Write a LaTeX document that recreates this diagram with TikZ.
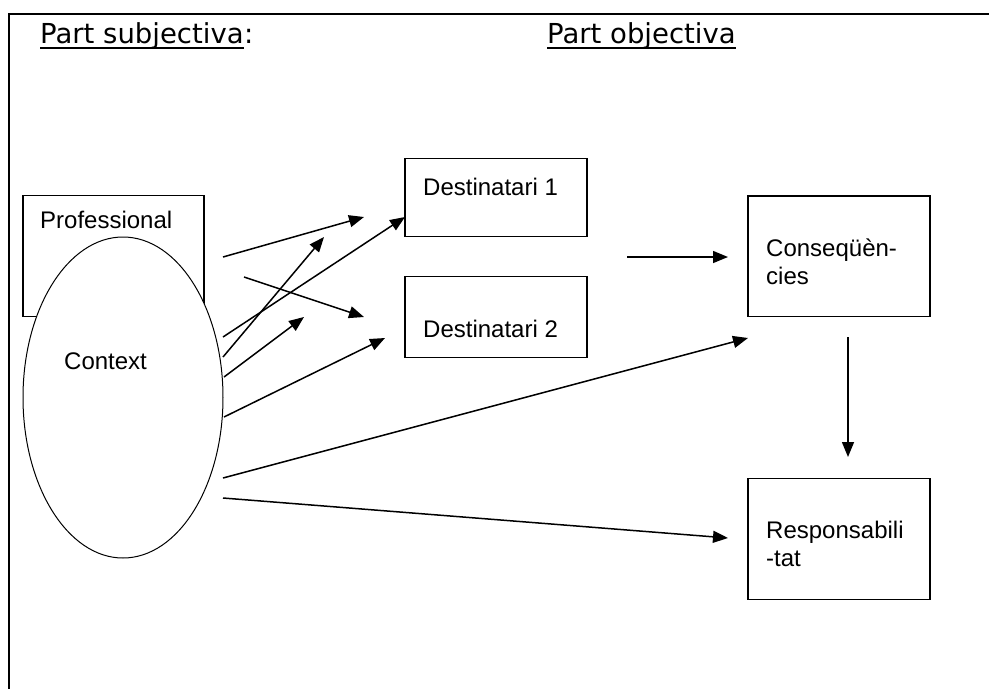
\documentclass[tikz,border=0pt]{standalone}
\usepackage{fontspec}
\setmainfont{Liberation Sans}
\newfontfamily\headfont{DejaVu Sans}
\usetikzlibrary{arrows.meta,shapes.geometric}

\tikzset{
  box/.style={draw, line width=1.5pt, rectangle, inner sep=0pt, outer sep=0pt},
  txt/.style={inner sep=0pt, font=\fontsize{24}{28}\selectfont, align=left},
  head/.style={inner sep=0pt, font=\headfont\fontsize{27.5}{31}\selectfont},
  arr/.style={line width=1.5pt, -{Triangle[length=15pt,width=12pt]}},
}

\begin{document}
\begin{tikzpicture}[x=1pt, y=-1pt]
  \useasboundingbox (0,0) rectangle (989,689);

  % Frame
  \coordinate (fr) at (989,14);
  \coordinate (fc) at (9,14);
  \coordinate (fb) at (9,689);
  \draw[line width=2pt] (fr) -- (fc) -- (fb);

  % Headings
  \node[head, anchor=base west] (psub) at (40,43.3) {Part subjectiva};
  \node[head, anchor=base west] (pcolon) at (psub.base east) {:};
  \node[head, anchor=base west] (pobj) at (547,43.3) {Part objectiva};
  \draw[line width=2pt] ([yshift=-5pt]psub.base west) -- ([yshift=-5pt]psub.base east);
  \draw[line width=2pt] ([yshift=-5pt]pobj.base west) -- ([yshift=-5pt]pobj.base east);

  % Boxes
  \node[box, minimum width=181.3pt, minimum height=121pt] (prof) at (113.4,256.2) {};
  \node[draw, ellipse, fill=white, line width=1pt, inner sep=0pt, outer sep=0pt,
        minimum width=200pt, minimum height=321pt] (ctx) at (123,397.5) {};
  \node[box, minimum width=182pt, minimum height=78.2pt] (dest1) at (496,197.6) {};
  \node[box, minimum width=182pt, minimum height=81pt] (dest2) at (496,316.8) {};
  \node[box, minimum width=182pt, minimum height=120.7pt] (cons) at (839,256.3) {};
  \node[box, minimum width=182.3pt, minimum height=121pt] (resp) at (838.9,538.8) {};

  % Labels
  \node[txt, anchor=base west] (proftxt) at (40,228) {Professional};
  \node[txt, anchor=base west] (ctxtxt) at (64,369) {Context};
  \node[txt, anchor=base west] (dest1txt) at (423,195) {Destinatari 1};
  \node[txt, anchor=base west] (dest2txt) at (423,337) {Destinatari 2};
  \node[txt, anchor=base west] (constxt) at (766,284.3) {Conseqüèn-\\cies};
  \node[txt, anchor=base west] (resptxt) at (766,566.7) {Responsabili\\-tat};

  % Arrow ends
  \coordinate (t1) at (223,257);  \coordinate (h1) at (364,217);
  \coordinate (t2) at (244,277);  \coordinate (h2) at (364,317);
  \coordinate (t3) at (223,337);  \coordinate (h3) at (405,217);
  \coordinate (t4) at (223,357);  \coordinate (h4) at (324,237);
  \coordinate (t5) at (224,377);  \coordinate (h5) at (304,317);
  \coordinate (t6) at (224,417);  \coordinate (h6) at (385,338);
  \coordinate (t7) at (223,478);  \coordinate (h7) at (748,338);
  \coordinate (t8) at (223,498);  \coordinate (h8) at (728,538);
  \coordinate (t9) at (627,257);  \coordinate (h9) at (728,257);
  \coordinate (t10) at (848,337); \coordinate (h10) at (848,457);

  % Arrows
  \draw[arr] (t1) -- (h1);
  \draw[arr] (t2) -- (h2);
  \draw[arr] (t3) -- (h3);
  \draw[arr] (t4) -- (h4);
  \draw[arr] (t5) -- (h5);
  \draw[arr] (t6) -- (h6);
  \draw[arr] (t7) -- (h7);
  \draw[arr] (t8) -- (h8);
  \draw[arr] (t9) -- (h9);
  \draw[arr] (t10) -- (h10);
\end{tikzpicture}
\end{document}
